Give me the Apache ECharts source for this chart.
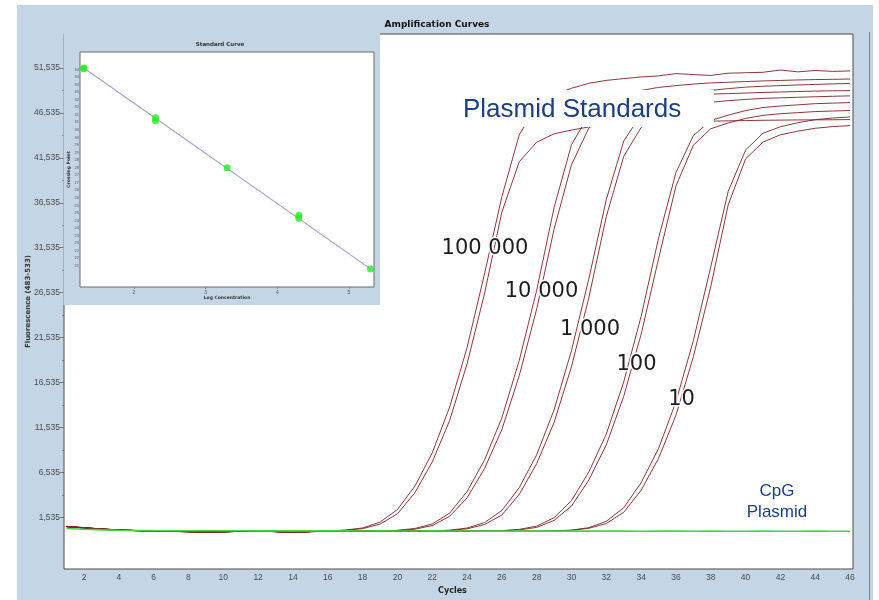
<!DOCTYPE html>
<html>
<head>
<meta charset="utf-8">
<script src="https://cdn.jsdelivr.net/npm/echarts@6/dist/echarts.min.js"></script>
<style>html,body{margin:0;padding:0;background:#fff}#c{width:879px;height:600px}</style>
</head>
<body>
<div id="c"></div>
<script>
// ---------- DATA ----------
const cycles = [1,2,3,4,5,6,7,8,9,10,11,12,13,14,15,16,17,18,19,20,21,22,23,24,25,26,27,28,29,30,31,32,33,34,35,36,37,38,39,40,41,42,43,44,45,46];

const std100000a = [0.55,0.4,0.25,0.15,0.08,0.03,0.0,-0.05,-0.12,-0.08,-0.02,0.0,-0.05,-0.15,-0.05,0.04,0.12,0.36,1.0,2.4,5.0,8.7,13.8,20.4,28.6,37.2,44.1,47.25,48.54,49.27,49.83,50.15,50.35,50.53,50.65,50.9,50.8,50.7,50.95,51.0,51.05,51.3,51.1,51.25,51.15,51.2];
const std100000b = [0.5,0.35,0.22,0.12,0.06,0.02,-0.02,-0.06,-0.1,-0.06,0.0,0.02,-0.04,-0.12,-0.04,0.03,0.1,0.28,0.78,1.93,4.26,7.7,12.3,18.6,26.4,35.5,41.1,43.27,44.21,44.62,44.97,45.18,45.3,45.4,45.48,45.53,45.58,45.61,45.65,45.68,45.71,45.73,45.75,45.76,45.77,45.79];
const std10000a = [0.52,0.38,0.24,0.14,0.07,0.03,-0.01,-0.05,-0.11,-0.07,-0.01,0.01,-0.05,-0.14,-0.05,-0.02,0.0,0.01,0.03,0.1,0.3,0.8,2.0,4.4,7.9,12.6,19.0,26.8,36.0,43.0,46.3,47.8,48.46,49.03,49.37,49.57,49.74,49.87,49.94,50.02,50.09,50.14,50.2,50.24,50.27,50.3];
const std10000b = [0.5,0.36,0.23,0.13,0.06,0.02,-0.02,-0.06,-0.1,-0.06,0.0,0.02,-0.04,-0.13,-0.04,-0.01,0.0,0.01,0.02,0.07,0.22,0.62,1.65,3.7,6.95,11.3,17.3,24.7,33.6,40.77,44.86,46.58,47.23,47.79,48.14,48.33,48.48,48.62,48.68,48.74,48.81,48.86,48.91,48.96,48.99,49.01];
const std1000a = [0.53,0.39,0.24,0.14,0.07,0.03,-0.01,-0.05,-0.11,-0.07,-0.02,0.01,-0.05,-0.14,-0.05,-0.02,0.0,0.01,0.0,-0.02,0.01,0.04,0.11,0.35,0.95,2.3,4.85,8.5,13.5,20.1,28.1,36.9,43.4,46.34,47.57,48.23,48.75,49.04,49.23,49.4,49.5,49.57,49.64,49.7,49.76,49.81];
const std1000b = [0.5,0.37,0.23,0.13,0.06,0.02,-0.02,-0.06,-0.1,-0.06,-0.01,0.02,-0.04,-0.13,-0.04,-0.01,0.0,0.01,0.0,-0.01,0.0,0.03,0.09,0.26,0.73,1.8,4.1,7.5,12.1,18.3,26.0,35.0,41.7,44.91,46.32,46.91,47.41,47.72,47.89,48.03,48.15,48.21,48.27,48.33,48.38,48.43];
const std100a = [0.52,0.38,0.24,0.14,0.07,0.03,-0.01,-0.05,-0.11,-0.07,-0.02,0.01,-0.05,-0.14,-0.05,-0.02,0.0,0.01,0.0,-0.02,0.01,0.0,-0.01,0.0,0.02,0.07,0.2,0.56,1.5,3.4,6.6,10.8,16.6,23.9,32.6,39.9,44.0,45.68,46.28,46.79,47.13,47.3,47.43,47.56,47.62,47.68];
const std100b = [0.5,0.36,0.22,0.12,0.06,0.02,-0.02,-0.06,-0.1,-0.06,-0.01,0.02,-0.04,-0.12,-0.04,-0.01,0.0,0.01,0.0,-0.01,0.0,0.01,0.0,-0.01,0.01,0.05,0.14,0.42,1.2,2.8,5.7,9.6,15.0,21.9,30.3,38.4,42.94,44.77,45.41,45.92,46.26,46.44,46.56,46.68,46.74,46.8];
const std10a = [0.52,0.38,0.24,0.14,0.07,0.03,-0.01,-0.05,-0.11,-0.07,-0.02,0.01,-0.05,-0.14,-0.05,-0.02,0.0,0.01,0.0,-0.02,0.01,0.0,-0.01,0.0,0.01,0.0,-0.01,0.01,0.04,0.12,0.39,1.1,2.6,5.4,9.2,14.4,21.2,29.4,37.8,42.4,44.27,44.99,45.44,45.78,45.96,46.08];
const std10b = [0.5,0.36,0.22,0.12,0.06,0.02,-0.02,-0.06,-0.1,-0.06,-0.01,0.02,-0.04,-0.12,-0.04,-0.01,0.0,0.01,0.0,-0.01,0.0,0.01,0.0,-0.01,0.0,0.01,0.0,0.01,0.03,0.1,0.32,0.85,2.1,4.55,8.1,12.9,19.4,27.2,36.3,41.42,43.28,44.1,44.5,44.82,45.01,45.12];
const cpgPlasmid = [0.3,0.22,0.15,0.1,0.08,0.06,0.05,0.05,0.04,0.05,0.04,0.03,0.04,0.03,0.03,0.04,0.03,0.02,0.03,0.02,0.02,0.03,0.02,0.02,0.01,0.02,0.01,0.02,0.01,0.01,0.02,0.01,0.01,0.0,0.01,0.01,0.0,0.01,0.0,0.0,0.01,0.0,0.0,0.01,0.0,0.0];

const standardSeries = [std100000a,std100000b,std10000a,std10000b,std1000a,std1000b,std100a,std100b,std10a,std10b];
const standardNames = ['100000 a','100000 b','10000 a','10000 b','1000 a','1000 b','100 a','100 b','10 a','10 b'];

const xTickLabels = [2,4,6,8,10,12,14,16,18,20,22,24,26,28,30,32,34,36,38,40,42,44,46];
const yTickLabels = [1.535,6.535,11.535,16.535,21.535,26.535,31.535,36.535,41.535,46.535,51.535];

// inset (standard curve)
const logConc   = [1.3, 1.3, 2.3, 2.3, 3.3, 4.3, 4.3, 5.3];
const crossPt   = [34.6, 34.55, 31.3, 31.1, 28.0, 24.85, 24.65, 21.3];
const fitLogConc = [1.3, 5.3];
const fitCrossPt = [34.6, 21.3];
const insetXTicks = [2,3,4,5];
const insetYTicks = [21.5,22,22.5,23,23.5,24,24.5,25,25.5,26,26.5,27,27.5,28,28.5,29,29.5,30,30.5,31,31.5,32,32.5,33,33.5,34,34.5];

// ---------- CHART ----------
const BG = '#c4d5e6';
const chart = echarts.init(document.getElementById('c'), null, {renderer:'canvas'});
const lab = {fontFamily:'Liberation Sans, Arial, sans-serif', fontSize:8.5, color:'#4a4a4a'};

const series = standardSeries.map((arr, k) => ({
  name: standardNames[k], type:'line', xAxisIndex:0, yAxisIndex:0,
  data: cycles.map((c,i)=>[c, arr[i]]),
  symbol:'none', z:2,
  lineStyle:{color:'#7c2323', width:1, opacity:0.9}
}));
series.push({
  name:'CpG Plasmid', type:'line', xAxisIndex:0, yAxisIndex:0,
  data: cycles.map((c,i)=>[c, cpgPlasmid[i]]),
  symbol:'none', z:3, lineStyle:{color:'#3bdc3b', width:1.6}
});
series.push({
  type:'line', xAxisIndex:1, yAxisIndex:2, z:6,
  data: fitLogConc.map((x,i)=>[x, fitCrossPt[i]]),
  symbol:'none', lineStyle:{color:'#a3a3cc', width:1.2}
});
series.push({
  type:'scatter', xAxisIndex:1, yAxisIndex:2, z:7,
  data: logConc.map((x,i)=>[x, crossPt[i]]),
  symbol:'circle', symbolSize:7, itemStyle:{color:'#26ec26'}
});

const option = {
  animation:false,
  backgroundColor:'#ffffff',
  grid:[
    {left:64, top:34, right:26, bottom:27, show:true, backgroundColor:'#ffffff', borderColor:'#4a4a4a', borderWidth:1, z:1},
    {left:80, top:52, width:294, height:235, show:true, backgroundColor:'#ffffff', borderColor:'#6a6a6a', borderWidth:1, z:4}
  ],
  xAxis:[
    {type:'value', gridIndex:0, min:0.85, max:46.17,
     name:'Cycles', nameLocation:'middle', nameGap:18, nameMoveOverlap:false,
     nameTextStyle:{fontFamily:'DejaVu Sans', fontWeight:'bold', fontSize:8, color:'#222', padding:[0,0,0,-12]},
     axisLine:{show:false}, splitLine:{show:false},
     axisTick:{show:true, customValues:xTickLabels, length:2, lineStyle:{color:'#777'}},
     axisLabel:Object.assign({customValues:xTickLabels, margin:4}, lab)},
    {type:'value', gridIndex:1, min:1.247, max:5.349, z:5,
     name:'Log Concentration', nameLocation:'middle', nameGap:8, nameMoveOverlap:false,
     nameTextStyle:{fontFamily:'DejaVu Sans', fontWeight:'bold', fontSize:4.5, color:'#333'},
     axisLine:{show:false}, splitLine:{show:false},
     axisTick:{show:true, customValues:insetXTicks, length:2, lineStyle:{color:'#888'}},
     axisLabel:{customValues:insetXTicks, margin:3, fontSize:5, color:'#555', fontFamily:'Liberation Sans'}}
  ],
  yAxis:[
    {type:'value', gridIndex:0, min:-4.207, max:55.31,
     name:'Fluorescence (483-533)', nameLocation:'middle', nameGap:32, nameRotate:90, nameMoveOverlap:false,
     nameTextStyle:{fontFamily:'DejaVu Sans', fontWeight:'bold', fontSize:7, color:'#333'},
     axisLine:{show:false}, splitLine:{show:false},
     axisTick:{show:true, customValues:yTickLabels, length:4, lineStyle:{color:'#777'}},
     axisLabel:Object.assign({customValues:yTickLabels, margin:4,
       formatter:v=>v.toFixed(3).replace('.', ',')}, lab)},
    {type:'value', gridIndex:0, min:-4.207, max:55.31, position:'left',
     axisLine:{show:false}, splitLine:{show:false}, axisLabel:{show:false},
     axisTick:{show:true, customValues:yTickLabels.slice(0,10).map(v=>v+2.5), length:2, lineStyle:{color:'#888'}}},
    {type:'value', gridIndex:1, min:20.1, max:35.66, z:5,
     name:'Crossing Point', nameLocation:'middle', nameGap:9, nameRotate:90, nameMoveOverlap:false,
     nameTextStyle:{fontFamily:'DejaVu Sans', fontWeight:'bold', fontSize:4.5, color:'#333'},
     axisLine:{show:false}, splitLine:{show:false},
     axisTick:{show:false},
     axisLabel:{customValues:insetYTicks, margin:1, fontSize:4, color:'#555', fontFamily:'Liberation Sans',
       formatter:v=>String(Math.floor(v))}}
  ],
  graphic:[
    {type:'rect', z:-10, silent:true, shape:{x:17, y:5, width:856, height:595}, style:{fill:BG}},
    {type:'line', z:-9, silent:true, shape:{x1:869.5, y1:32, x2:869.5, y2:600}, style:{stroke:'#7b8591', lineWidth:1}},
    {type:'rect', z:3, silent:true, shape:{x:63.5, y:20, width:316.5, height:285}, style:{fill:BG}},
    {type:'text', z:8, silent:true, x:437, y:25,
     style:{text:'Amplification Curves', font:'bold 9px DejaVu Sans', fill:'#111', align:'center', verticalAlign:'middle'}},
    {type:'text', z:8, silent:true, x:220, y:45,
     style:{text:'Standard Curve', font:'bold 5.5px DejaVu Sans', fill:'#333', align:'center', verticalAlign:'middle'}},
    {type:'rect', z:3, silent:true, shape:{x:448, y:90, width:266, height:37}, style:{fill:'#ffffff'}},
    {type:'text', z:4, silent:true, x:463, y:110,
     style:{text:'Plasmid Standards', font:'26px Liberation Sans', fill:'#1c3f7e', align:'left', verticalAlign:'middle'}},
    {type:'text', z:4, silent:true, x:485, y:249,
     style:{text:'100 000', font:'21px DejaVu Sans', fill:'#1e1e1e', align:'center', verticalAlign:'middle', stroke:'#fff', lineWidth:3}},
    {type:'text', z:4, silent:true, x:541.5, y:291.5,
     style:{text:'10 000', font:'21px DejaVu Sans', fill:'#1e1e1e', align:'center', verticalAlign:'middle', stroke:'#fff', lineWidth:3}},
    {type:'text', z:4, silent:true, x:590, y:330,
     style:{text:'1 000', font:'21px DejaVu Sans', fill:'#1e1e1e', align:'center', verticalAlign:'middle', stroke:'#fff', lineWidth:3}},
    {type:'text', z:4, silent:true, x:636.5, y:365,
     style:{text:'100', font:'21px DejaVu Sans', fill:'#1e1e1e', align:'center', verticalAlign:'middle', stroke:'#fff', lineWidth:3}},
    {type:'text', z:4, silent:true, x:681.5, y:399.5,
     style:{text:'10', font:'21px DejaVu Sans', fill:'#1e1e1e', align:'center', verticalAlign:'middle', stroke:'#fff', lineWidth:3}},
    {type:'text', z:4, silent:true, x:777, y:491,
     style:{text:'CpG', font:'17px Liberation Sans', fill:'#1c3f7e', align:'center', verticalAlign:'middle'}},
    {type:'text', z:4, silent:true, x:777, y:512,
     style:{text:'Plasmid', font:'17px Liberation Sans', fill:'#1c3f7e', align:'center', verticalAlign:'middle'}}
  ],
  series: series
};
chart.setOption(option);
</script>
</body>
</html>
